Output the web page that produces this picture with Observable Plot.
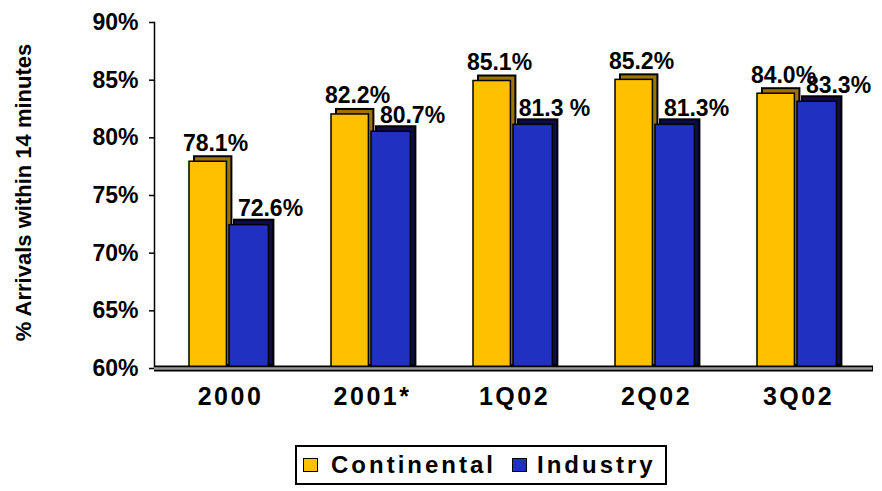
<!DOCTYPE html>
<html>
<head>
<meta charset="utf-8">
<script src="https://cdn.jsdelivr.net/npm/d3@7"></script>
<script src="https://cdn.jsdelivr.net/npm/@observablehq/plot@0.6"></script>
<style>
  body { margin: 0; background: #fff; }
  #chart svg { display: block; }
  [aria-label="x-axis tick label"] text { letter-spacing: 2.5px; }
  [aria-label="ytitle"] text { letter-spacing: 0.6px; }
  #legend {
    position: absolute; left: 295px; top: 445px; width: 368px; height: 36px;
    border: 2px solid #000; display: flex; align-items: center;
    font: bold 24px "Liberation Sans", Arial, sans-serif; letter-spacing: 3px; color: #000;
  }
  #legend .sw { width: 13px; height: 12px; border: 1.5px solid #000; display: inline-block; }
</style>
</head>
<body>
<div id="chart"></div>
<div id="legend"></div>
<script>
const categories = ["2000", "2001*", "1Q02", "2Q02", "3Q02"];
const continental = [78.1, 82.2, 85.1, 85.2, 84.0];
const industry = [72.6, 80.7, 81.3, 81.3, 83.3];
const continentalLabels = ["78.1%", "82.2%", "85.1%", "85.2%", "84.0%"];
const industryLabels = ["72.6%", "80.7%", "81.3 %", "81.3%", "83.3%"];
const yTicks = [60, 65, 70, 75, 80, 85, 90];
const seriesNames = ["Continental", "Industry"];
const seriesColors = ["#FFC000", "#2030C0"];
const seriesDark = ["#9C7400", "#0C0C48"];
const yTitle = "% Arrivals within 14 minutes";

const contData = categories.map((c, i) => ({cat: c, value: continental[i], label: continentalLabels[i]}));
const indData = categories.map((c, i) => ({cat: c, value: industry[i], label: industryLabels[i]}));

const bw = (870 - 157) / categories.length;
const contInset = {insetLeft: 30, insetRight: bw - 30 - 38};
const indInset = {insetLeft: 70, insetRight: bw - 70 - 40};

const chart = Plot.plot({
  width: 882,
  height: 440,
  marginLeft: 154,
  marginRight: 12,
  marginTop: 22,
  marginBottom: 72,
  style: {fontFamily: "'Liberation Sans', Arial, sans-serif", color: "#000", background: "#fff"},
  x: {domain: categories, range: [157, 870], padding: 0},
  y: {domain: [60, 90]},
  marks: [
    Plot.axisY({ticks: yTicks, tickFormat: d => d + "%", tickSize: 5, tickPadding: 11, fontSize: 23, fontWeight: "bold", label: null, strokeWidth: 1.5}),
    Plot.axisX({tickSize: 0, tickPadding: 19, fontSize: 25, fontWeight: "bold", label: null}),
    Plot.frame({anchor: "left", strokeWidth: 1.5}),
    // Continental: back (3D) face then front face
    Plot.barY(contData, {x: "cat", y1: 60, y2: "value", ...contInset, dx: 5, dy: -3, fill: seriesDark[0], stroke: "#000", strokeWidth: 2}),
    Plot.barY(contData, {x: "cat", y1: 60, y2: "value", ...contInset, dy: 2, fill: seriesColors[0], stroke: "#000", strokeWidth: 1.5}),
    // Industry
    Plot.barY(indData, {x: "cat", y1: 60, y2: "value", ...indInset, dx: 5, dy: -3, fill: seriesDark[1], stroke: "#000", strokeWidth: 2}),
    Plot.barY(indData, {x: "cat", y1: 60, y2: "value", ...indInset, dy: 2, fill: seriesColors[1], stroke: "#000", strokeWidth: 1.5}),
    // floor
    Plot.ruleY([60], {stroke: "#000", strokeWidth: 6, insetRight: -3}),
    Plot.ruleY([60], {stroke: "#999", strokeWidth: 2.5, insetRight: -2}),
    // value labels
    Plot.text(contData, {x: "cat", y: "value", text: "label", dx: -15, dy: -9, lineAnchor: "bottom", fontSize: 23, fontWeight: "bold", fill: "#000"}),
    Plot.text(indData, {x: "cat", y: "value", text: "label", dx: 40, dy: -7, lineAnchor: "bottom", fontSize: 23, fontWeight: "bold", fill: "#000"}),
    // y title
    Plot.text([yTitle], {frameAnchor: "left", textAnchor: "middle", dx: -131, dy: -3, rotate: -90, fontSize: 22, fontWeight: "bold", fill: "#000", ariaLabel: "ytitle"})
  ]
});
document.getElementById("chart").appendChild(chart);

const legend = document.getElementById("legend");
const margins = [[6, 13], [16, 10]];
seriesNames.forEach((name, i) => {
  const sw = document.createElement("span");
  sw.className = "sw";
  sw.style.background = seriesColors[i];
  sw.style.marginLeft = margins[i][0] + "px";
  sw.style.marginRight = margins[i][1] + "px";
  legend.appendChild(sw);
  const t = document.createElement("span");
  t.textContent = name;
  legend.appendChild(t);
});
</script>
</body>
</html>
